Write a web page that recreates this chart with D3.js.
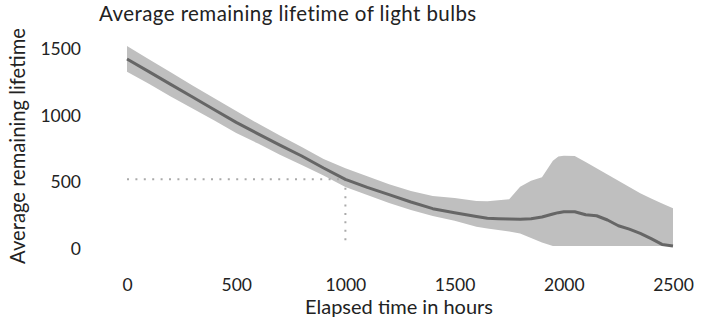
<!DOCTYPE html>
<html>
<head>
<meta charset="utf-8">
<script src="https://cdn.jsdelivr.net/npm/d3@7"></script>
<style>
  html, body { margin: 0; padding: 0; background: #fff; }
  svg { display: block; }
  text { font-family: Lato, "Open Sans", sans-serif; fill: #222; }
</style>
</head>
<body>
<svg id="chart" width="706" height="323"></svg>
<script>
// ---- data ----
const hours = [0,100,200,300,400,500,600,700,800,900,1000,1100,1200,1300,1400,1500,1600,1650,1700,1750,1800,1850,1900,1950,1975,2000,2050,2100,2150,2200,2250,2300,2350,2400,2450,2500];
const meanLife = [1403,1308,1212,1117,1022,927,841,756,675,585,500,440,385,330,280,250,222,208,205,203,200,205,217,240,250,257,257,234,227,195,152,127,95,55,12,0];
const upperBand = [1500,1400,1303,1203,1108,1013,918,828,743,653,583,523,463,413,375,360,338,335,343,350,445,490,515,640,672,677,675,630,583,537,490,443,395,357,318,283];
const lowerBand = [1307,1217,1122,1032,942,848,768,685,608,528,443,383,323,270,225,190,145,132,120,108,93,60,27,0,0,0,0,0,0,0,0,0,0,0,0,0];
const xTicks = [0,500,1000,1500,2000,2500];
const yTicks = [0,500,1000,1500];
const refPoint = {hour: 1000, value: 500};
const titleText = "Average remaining lifetime of light bulbs";
const xLabel = "Elapsed time in hours";
const yLabel = "Average remaining lifetime";

// ---- drawing ----
const svg = d3.select("#chart");
const x = d3.scaleLinear().domain([0, 2500]).range([127, 673]);
const y = d3.scaleLinear().domain([0, 1500]).range([246, 46]);

const rows = hours.map((h, i) => ({h, m: meanLife[i], lo: lowerBand[i], hi: upperBand[i]}));

svg.append("path")
  .datum(rows)
  .attr("fill", "#bfbfbf")
  .attr("d", d3.area().x(d => x(d.h)).y0(d => y(d.lo)).y1(d => y(d.hi)));

// dotted reference lines
svg.append("path")
  .attr("fill", "none")
  .attr("stroke", "#aaaaaa")
  .attr("stroke-width", 2)
  .attr("stroke-dasharray", "2,6.4")
  .attr("d", d3.line()([[x(0), y(refPoint.value)], [x(refPoint.hour), y(refPoint.value)], [x(refPoint.hour), y(0)]]));

svg.append("path")
  .datum(rows)
  .attr("fill", "none")
  .attr("stroke", "#666666")
  .attr("stroke-width", 3)
  .attr("stroke-linejoin", "round")
  .attr("d", d3.line().x(d => x(d.h)).y(d => y(d.m)));

// axes
const tickFont = 17.5;
const gx = svg.append("g").attr("transform", `translate(0,${y(0)})`)
  .call(d3.axisBottom(x).tickValues(xTicks).tickFormat(d3.format("d")).tickSize(0).tickPadding(33));
gx.select(".domain").remove();
gx.selectAll("text").attr("font-size", tickFont).attr("font-family", "Lato, sans-serif").attr("fill", "#222");

const gy = svg.append("g").attr("transform", `translate(${x(0)},0)`)
  .call(d3.axisLeft(y).tickValues(yTicks).tickFormat(d3.format("d")).tickSize(0).tickPadding(46));
gy.select(".domain").remove();
gy.selectAll("text").attr("font-size", tickFont).attr("dy", "0.48em").attr("font-family", "Lato, sans-serif").attr("fill", "#222");

function fitText(sel, target, base) {
  sel.attr("font-size", base);
  const w = sel.node().getComputedTextLength();
  sel.attr("font-size", base * target / w);
}
function spreadText(sel, target, size) {
  sel.attr("font-size", size).attr("letter-spacing", 0);
  const w = sel.node().getComputedTextLength();
  const n = sel.text().length;
  sel.attr("letter-spacing", Math.max(0, (target - w) / n));
}

const title = svg.append("text").attr("x", 99).attr("y", 20.5).text(titleText);
spreadText(title, 378, 20.5);

const xt = svg.append("text").attr("x", 399).attr("y", 314).attr("text-anchor", "middle").text(xLabel);
fitText(xt, 188, 20);

const yt = svg.append("text").attr("transform", "translate(25,146) rotate(-90)").attr("text-anchor", "middle").text(yLabel);
fitText(yt, 236, 20);
</script>
</body>
</html>
